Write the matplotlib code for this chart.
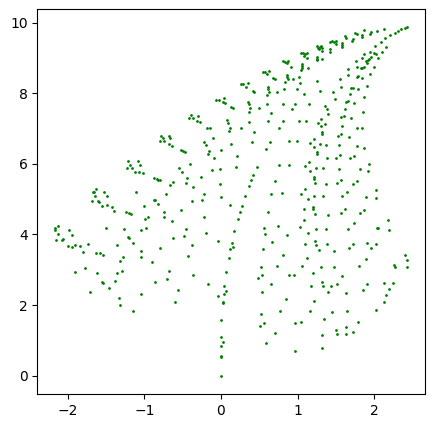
import matplotlib
matplotlib.use("Agg")
import matplotlib.pyplot as plt
import numpy as np

# Points, grouped by area of the chart
# upper middle
x_um = [0.815,0.841,0.858,0.876,0.919,0.553,0.579,0.606,0.632,0.675,0.701,0.858,0.858,0.841,0.876,0.945,
        0.266,0.292,0.353,0.327,0.423,0.436,0.614,0.614,0.632,0.606,0.736,0.823,-0.065,-0.022,0.043,0.030,0.057,
        0.353,0.370,0.379,0.370,0.135,0.161,0.501,0.606,0.815,0.972,0.928,0.649,-0.392,-0.414,-0.370,-0.301,
        -0.309,-0.270,0.083,0.096,-0.179,-0.144,0.122,0.109,0.266,0.370,0.614,0.815,0.762,0.436]
y_um = [8.90,8.88,8.85,8.90,8.73,8.59,8.59,8.54,8.62,8.42,8.39,8.52,8.47,8.33,8.39,8.39,
        8.25,8.25,8.28,8.17,8.05,8.03,8.17,8.11,8.03,7.95,8.03,8.11,7.80,7.80,7.86,7.74,7.71,
        7.74,7.69,7.57,7.48,7.60,7.57,7.57,7.69,7.69,7.69,7.54,7.43,7.38,7.29,7.29,7.35,
        7.20,7.18,7.23,7.15,7.03,7.01,7.01,6.92,7.03,7.18,7.20,7.20,7.01,6.89]

# upper right
x_ur = [2.435,2.400,2.357,2.318,2.270,2.213,2.148,2.135,2.043,1.965,1.952,1.873,1.756,1.773,1.847,1.847,
        1.616,1.629,1.729,1.716,1.446,1.481,1.498,1.429,1.498,1.586,1.586,1.586,2.087,2.017,2.161,
        1.259,1.307,1.294,1.272,1.285,1.320,1.324,1.429,1.429,1.943,2.004,2.030,2.108,1.864,
        1.045,1.076,1.119,1.093,1.085,1.128,1.259,1.259,1.250,1.324,1.847,2.056,1.899,1.917,1.939,1.960,1.769,
        1.908,1.063,1.058,1.050,1.063,1.141,1.773,2.004,1.873,1.847,1.825,1.664,1.664,1.947,1.777,1.795,1.838,
        1.559,1.024,1.250,1.037,1.908,1.573,1.729,1.703,1.795,0.997,1.294,1.468,1.089,1.690,1.873,1.485,
        1.664,1.638,1.742,1.154,1.363,1.625,1.390,1.860,1.403,1.573,1.612,1.703,1.311,1.024,1.115,1.263,
        1.363,1.586,1.307,1.782,1.847,1.324,1.324,1.573]
y_ur = [9.87,9.84,9.81,9.75,9.70,9.64,9.56,9.81,9.75,9.73,9.67,9.78,9.70,9.67,9.64,9.58,
        9.61,9.56,9.53,9.48,9.48,9.46,9.48,9.44,9.39,9.41,9.36,9.32,9.44,9.33,9.30,
        9.33,9.34,9.30,9.29,9.24,9.27,9.21,9.24,9.18,9.16,9.13,9.10,9.16,9.10,
        9.13,9.13,9.13,9.10,9.06,8.99,9.02,8.96,8.94,8.96,8.99,8.99,8.92,8.93,8.96,9.04,8.91,
        8.85,8.82,8.76,8.66,8.71,8.71,8.75,8.75,8.73,8.71,8.71,8.68,8.51,8.54,8.47,8.49,8.42,
        8.39,8.45,8.34,8.28,8.21,8.19,8.16,8.14,8.11,8.11,8.07,8.04,7.97,7.97,7.88,7.83,
        7.79,7.74,7.71,7.69,7.64,7.54,7.54,7.48,7.40,7.32,7.36,7.29,7.26,7.20,7.20,7.15,
        7.13,7.06,7.06,7.03,7.01,6.91,6.86,6.85]

# middle left
x_ml = [-0.780,-0.762,-0.802,-0.749,-1.211,-1.080,-1.185,-1.054,-1.224,-1.159,-1.120,-1.067,-1.015,
        -0.871,-0.841,-0.819,-0.802,-1.629,-1.669,-1.664,-1.642,-1.525,-1.486,-1.682,-1.603,-1.599,
        -1.551,-1.490,-1.420,-1.394,-1.107,-1.002,-0.871,-0.858,-0.819,-0.723,-1.237,-1.198,-1.172,
        -0.989,-0.950,-0.741,-0.749,-2.165,-2.130,-2.165,-2.126,-1.982,-1.943,-1.499,-1.263,-1.041,-0.976,
        -2.152,-2.074,-2.061,-1.211,-1.198,-1.146,-1.995,-1.943,-1.913,-1.839,-1.734,-1.355,-0.793,
        -1.799,-1.629,-1.577,-1.538,-1.276,-1.316,-1.041,-1.041,-0.897]
y_ml = [6.80,6.74,6.64,6.64,6.07,6.07,5.98,5.96,5.88,5.88,5.76,5.76,5.73,
        5.59,5.56,5.54,5.54,5.28,5.21,5.19,5.08,5.20,5.08,4.94,4.96,4.93,
        4.80,4.83,4.77,4.66,5.20,4.80,4.97,4.97,4.86,5.14,4.63,4.60,4.57,
        4.43,4.49,4.63,4.49,4.18,4.23,4.12,4.00,4.12,3.98,4.18,4.15,4.12,4.18,
        3.84,3.84,3.86,3.92,3.89,3.75,3.67,3.64,3.69,3.67,3.72,3.69,3.61,
        3.50,3.47,3.47,3.41,3.35,3.24,3.52,3.35,3.21]

# centre
x_c = [-0.675,-0.662,-0.675,-0.636,-0.218,-0.192,-0.100,0.135,0.409,0.645,0.893,0.592,
       -0.519,-0.492,-0.466,-0.153,-0.166,0.004,-0.087,0.213,-0.401,-0.545,-0.506,-0.113,-0.009,0.200,
       0.475,0.762,0.893,-0.440,-0.257,0.423,0.396,-0.623,-0.662,-0.453,-0.362,-0.009,0.370,0.710,
       -0.218,0.004,0.318,0.658,0.802,-0.244,-0.375,0.122,0.279,-0.519,0.253,0.619,-0.218,0.226,
       -0.636,-0.453,0.566,0.749,-0.192,0.174,0.579,-0.479,0.867,-0.623,-0.035,0.148,0.161,0.122,
       0.553,0.671,-0.375,-0.427,0.109,0.815]
y_c = [6.80,6.73,6.56,6.50,6.61,6.53,6.73,6.56,6.61,6.61,6.64,6.41,
       6.39,6.36,6.33,6.36,6.27,6.39,6.16,6.22,5.99,5.88,5.76,5.82,5.85,5.90,
       5.90,5.96,5.96,5.59,5.62,5.68,5.54,5.48,5.39,5.45,5.34,5.42,5.36,5.51,
       5.14,5.05,5.08,5.14,5.17,4.97,4.94,4.83,4.80,4.69,4.63,4.63,4.49,4.43,
       4.37,4.15,4.18,4.23,4.03,4.09,4.00,3.95,3.98,3.89,3.81,3.75,3.64,3.58,
       3.58,3.78,3.69,3.38,3.33,3.41]

# middle right
x_mr = [0.997,1.167,1.220,1.220,1.298,1.376,1.533,1.677,1.546,1.782,1.873,1.259,1.259,1.390,
        1.507,1.559,1.690,1.742,1.939,1.154,1.102,1.167,1.246,1.337,1.546,1.821,1.925,1.220,1.220,
        1.233,1.376,1.520,1.573,1.729,1.782,1.102,1.050,1.141,1.220,1.337,1.586,1.651,1.899,2.030,
        2.030,1.089,1.207,1.207,1.233,1.403,1.573,1.625,1.821,1.873,1.089,1.037,1.141,1.246,1.376,
        1.664,1.742,2.043,2.056,2.187,2.200,1.102,1.233,1.246,1.285,1.390,1.481,1.677,1.729,1.912,
        1.965,2.030,1.128,1.899,2.409,2.435,2.257]
y_mr = [6.64,6.58,6.70,6.47,6.56,6.53,6.78,6.75,6.53,6.50,6.44,6.33,6.27,6.16,
        6.16,6.24,6.16,6.22,5.99,6.05,5.93,5.79,5.88,5.88,5.85,5.85,5.79,5.62,5.56,
        5.45,5.42,5.45,5.54,5.42,5.51,5.28,5.14,5.00,5.08,5.08,5.08,5.20,5.05,5.25,
        5.03,4.71,4.77,4.71,4.57,4.54,4.60,4.71,4.60,4.69,4.40,4.20,4.03,4.15,4.15,
        4.15,4.32,4.18,4.18,4.40,4.12,3.72,3.81,3.69,3.55,3.72,3.52,3.61,3.72,3.75,
        3.61,3.72,3.33,3.30,3.41,3.27,3.14]

# lower left
x_ll = [-1.904,-1.773,-1.616,-1.355,-1.290,-1.551,-1.538,-1.381,-1.708,-1.459,-1.329,-1.316,-1.146,-1.041,-0.858]
y_ll = [2.93,3.04,2.90,2.90,2.96,2.65,2.62,2.67,2.36,2.48,2.19,1.99,1.82,2.31,2.65]

# lower middle (stem)
x_lm = [-0.675,-0.702,-0.362,-0.558,-0.597,-0.166,0.070,0.043,0.070,-0.035,0.043,0.030,0.030,0.004,
        0.004,0.030,0.004,0.004,0.004,0.000,0.527,0.736,0.488,0.540,0.658,0.540,0.893,0.958,0.854,
        0.527,0.775,0.566,0.514,0.710,0.592,0.972,0.972]
y_lm = [2.96,2.73,2.84,2.42,2.08,2.59,2.93,2.53,2.39,2.25,2.31,2.08,2.05,1.57,
        1.09,0.95,0.83,0.55,0.52,0.00,3.07,3.10,2.76,2.84,2.59,2.36,2.84,2.84,2.16,
        1.74,1.82,1.48,1.40,1.20,0.92,1.48,0.69]

# lower right
x_lr = [1.063,1.311,1.481,1.808,2.278,2.435,1.207,1.586,1.324,1.337,1.180,1.442,1.520,1.912,2.135,
        2.252,2.200,1.860,1.403,1.638,2.161,1.220,2.135,1.167,1.455,1.651,2.030,1.350,1.050,1.795,
        1.507,1.638,1.520,1.638,1.729,1.324,1.324]
y_lr = [3.10,3.07,3.07,3.10,3.07,3.07,2.90,2.82,2.65,2.53,2.53,2.53,2.59,2.59,2.62,
        2.62,2.45,2.42,2.36,2.33,2.28,2.11,2.08,1.82,1.80,1.82,1.85,1.60,1.51,1.51,
        1.29,1.37,1.17,1.17,1.23,1.14,0.78]

x = np.array(x_um + x_ur + x_ml + x_c + x_mr + x_ll + x_lm + x_lr)
y = np.array(y_um + y_ur + y_ml + y_c + y_mr + y_ll + y_lm + y_lr)

fig = plt.figure(figsize=(4.34, 4.28), dpi=100)
ax = fig.add_axes([0.086, 0.0794, 0.894, 0.899])
ax.scatter(x, y, s=1, c='green')
ax.set_xlim(-2.40, 2.67)
ax.set_ylim(-0.52, 10.38)
ax.set_xticks([-2, -1, 0, 1, 2])
ax.set_yticks([0, 2, 4, 6, 8, 10])
fig.savefig("out.png", dpi=100)
